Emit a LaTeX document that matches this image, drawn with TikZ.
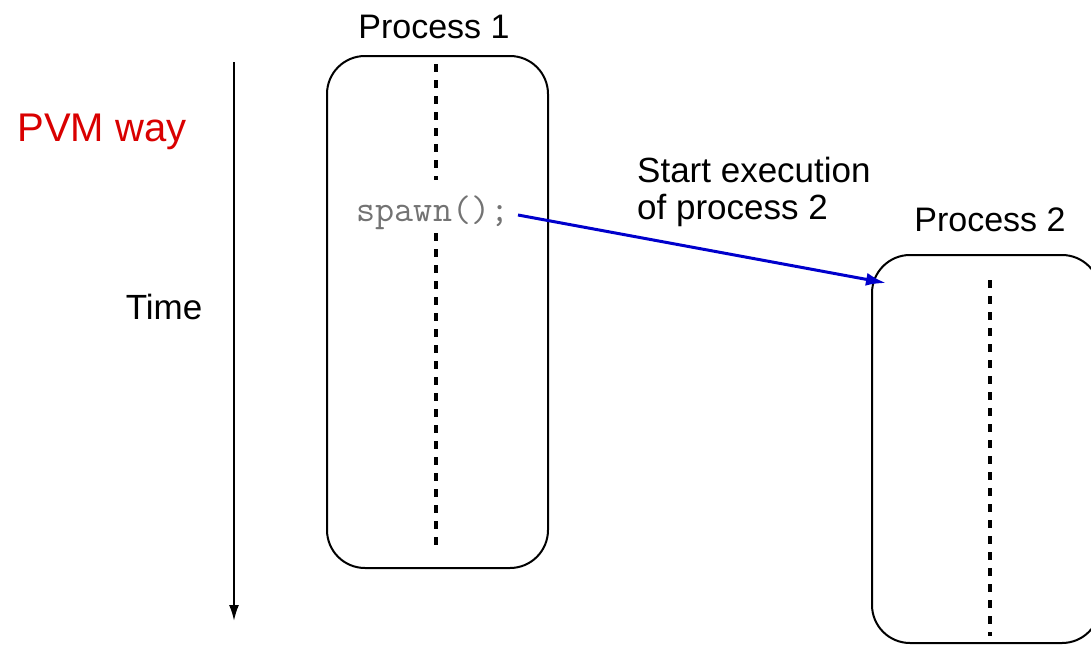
\documentclass[tikz,border=0pt]{standalone}
\usepackage{fontspec}
\setmainfont{Liberation Sans}
\usetikzlibrary{arrows.meta}
\begin{document}
\begin{tikzpicture}[x=1pt,y=-1pt,
  procbox/.style={draw=black,line width=2pt,rounded corners=38pt},
  lifeline/.style={line width=3.5pt,dash pattern=on 8pt off 8pt},
  lbl/.style={font=\fontsize{34}{37}\selectfont,inner sep=0pt,align=left}]
\useasboundingbox (0,0) rectangle (1091,645);
% Process 1
\draw[procbox] (327,56) rectangle (548,568);
\node[lbl] (p1) at (434,27) {Process 1};
\node[lbl,font=\fontsize{37}{40}\ttfamily,text=black!55] (spawn) at (433,213) {spawn();};
\coordinate (l1a) at (436,64);
\coordinate (l1b) at (436,180);
\coordinate (l1c) at (436,233);
\coordinate (l1d) at (436,547);
\draw[lifeline] (l1a) -- (l1b);
\draw[lifeline] (l1c) -- (l1d);
% Process 2
\draw[procbox] (872,255) rectangle (1100,643);
\node[lbl] (p2) at (990,220) {Process 2};
\coordinate (l2a) at (990,280);
\coordinate (l2b) at (990,636);
\draw[lifeline] (l2a) -- (l2b);
% Spawn arrow
\coordinate (arrA) at (518,215);
\coordinate (arrB) at (886,283);
\draw[blue!80!black,line width=3pt,-{Latex[length=20pt,width=13pt]}] (arrA) -- (arrB);
\node[lbl,anchor=west,font=\fontsize{35}{37}\selectfont] (start) at (637,192) {Start execution\\of process 2};
% Time axis
\coordinate (t0) at (234,62);
\coordinate (t1) at (234,621);
\draw[line width=2pt,-{Latex[length=16pt,width=10pt]}] (t0) -- (t1);
\node[lbl,font=\fontsize{35}{37}\selectfont] (time) at (164,307) {Time};
\node[lbl,font=\fontsize{40}{44}\selectfont,text=red!85!black] (pvm) at (102,132) {PVM way};
\end{tikzpicture}
\end{document}
